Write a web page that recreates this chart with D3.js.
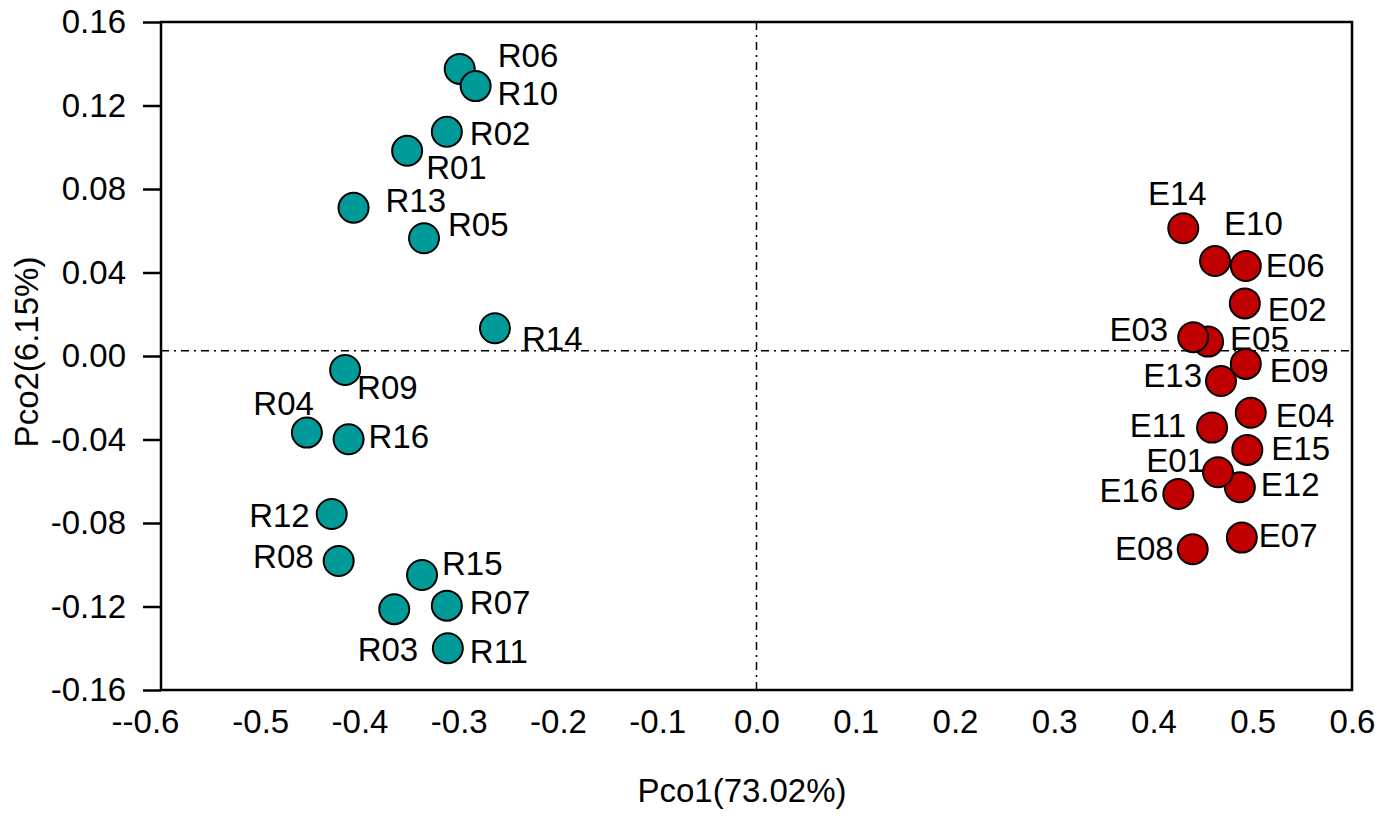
<!DOCTYPE html>
<html>
<head>
<meta charset="utf-8">
<script src="https://cdn.jsdelivr.net/npm/d3@7"></script>
<style>
  body { margin: 0; background: #fff; }
  text { font-family: Arial, "Liberation Sans", sans-serif; fill: #000; }
</style>
</head>
<body>
<div id="chart"></div>
<script>
// R group (teal), listed in drawing order
const rNames = ["R06", "R10", "R02", "R01", "R13", "R05", "R14", "R09", "R04", "R16", "R12", "R08", "R15", "R07", "R03", "R11"];
const rX = [-0.299, -0.283, -0.312, -0.352, -0.406, -0.335, -0.2635, -0.4145, -0.453, -0.411, -0.428, -0.421, -0.337, -0.312, -0.365, -0.311];
const rY = [0.1375, 0.1293, 0.1074, 0.0983, 0.0710, 0.0564, 0.0133, -0.0067, -0.0367, -0.0399, -0.0757, -0.0982, -0.1049, -0.1196, -0.1213, -0.1400];

// E group (red), listed in drawing order
const eNames = ["E14", "E10", "E06", "E02", "E05", "E03", "E13", "E09", "E04", "E11", "E15", "E12", "E01", "E16", "E07", "E08"];
const eX = [0.430, 0.462, 0.493, 0.492, 0.455, 0.440, 0.468, 0.493, 0.498, 0.459, 0.4945, 0.487, 0.465, 0.425, 0.489, 0.4395];
const eY = [0.0612, 0.0455, 0.0431, 0.0252, 0.0069, 0.0090, -0.0120, -0.0038, -0.0272, -0.0343, -0.0450, -0.0629, -0.0557, -0.0661, -0.0870, -0.0926];

const xTicks = [-0.6, -0.5, -0.4, -0.3, -0.2, -0.1, 0.0, 0.1, 0.2, 0.3, 0.4, 0.5, 0.6];
const xTickLabels = ["--0.6", "-0.5", "-0.4", "-0.3", "-0.2", "-0.1", "0.0", "0.1", "0.2", "0.3", "0.4", "0.5", "0.6"];
const yTicks = [0.16, 0.12, 0.08, 0.04, 0.0, -0.04, -0.08, -0.12, -0.16];
const yTickLabels = ["0.16", "0.12", "0.08", "0.04", "0.00", "-0.04", "-0.08", "-0.12", "-0.16"];

const xTitle = "Pco1(73.02%)";
const yTitle = "Pco2(6.15%)";
const hRef = 0.0025; // horizontal reference line
const vRef = 0.0;

// label placement: [anchor, dx, dy]
const labelPlace = {
  R06: ["start", 38, -2], R10: ["start", 22, 19], R02: ["start", 23, 13], R01: ["start", 19, 28],
  R13: ["start", 32, 4], R05: ["start", 24, -2], R14: ["start", 27, 22], R09: ["start", 12, 29],
  R04: ["end", 7, -18], R16: ["start", 20, 9], R12: ["end", -22, 13], R08: ["end", -25, 7],
  R15: ["start", 20, 0], R07: ["start", 23, 8], R03: ["end", 24, 52], R11: ["start", 22, 15],
  E14: ["middle", -6, -23], E10: ["start", 9, -26], E06: ["start", 20, 11], E02: ["start", 23, 18],
  E03: ["end", -25, 4], E05: ["start", 22, 8], E09: ["start", 24, 18], E13: ["end", -19, 6],
  E04: ["start", 25, 14], E11: ["end", -26, 9], E15: ["start", 24, 10], E01: ["end", -13, 0],
  E12: ["start", 21, 9], E16: ["end", -20, 8], E07: ["start", 17, 9], E08: ["end", -19, 11]
};

const W = 1399, H = 816;
const margin = { top: 22, right: 47, bottom: 126, left: 161 };
const width = W - margin.left - margin.right;
const height = H - margin.top - margin.bottom;

const svg = d3.select("#chart").append("svg")
  .attr("width", W)
  .attr("height", H);

const g = svg.append("g")
  .attr("transform", `translate(${margin.left},${margin.top})`);

const x = d3.scaleLinear().domain([-0.6, 0.6]).range([0, width]);
const y = d3.scaleLinear().domain([-0.16, 0.16]).range([height, 0]);

// reference lines
g.append("line")
  .attr("x1", 0).attr("x2", width)
  .attr("y1", y(hRef)).attr("y2", y(hRef))
  .attr("stroke", "#000").attr("stroke-width", 1.5)
  .attr("stroke-dasharray", "8,5,2,5");
g.append("line")
  .attr("x1", x(vRef)).attr("x2", x(vRef))
  .attr("y1", 0).attr("y2", height)
  .attr("stroke", "#000").attr("stroke-width", 1.5)
  .attr("stroke-dasharray", "8,5,2,5");

// frame
g.append("rect")
  .attr("width", width).attr("height", height)
  .attr("fill", "none").attr("stroke", "#000").attr("stroke-width", 2.5);

// y axis
const yAxis = d3.axisLeft(y)
  .tickValues(yTicks)
  .tickSize(18)
  .tickPadding(17)
  .tickFormat((d, i) => yTickLabels[i]);
const ya = g.append("g").call(yAxis);
ya.select(".domain").remove();
ya.selectAll("line").attr("stroke-width", 2.5);
ya.selectAll("text").style("font-size", "33px").attr("font-family", null);

// x axis (labels only)
const xAxis = d3.axisBottom(x)
  .tickValues(xTicks)
  .tickSize(0)
  .tickPadding(20)
  .tickFormat((d, i) => xTickLabels[i]);
const xa = g.append("g").attr("transform", `translate(0,${height})`).call(xAxis);
xa.select(".domain").remove();
xa.selectAll("text").style("font-size", "33px").attr("font-family", null)
  .attr("dx", (d, i) => i === 0 ? -16 : 0);

// axis titles
svg.append("text")
  .attr("x", 742).attr("y", 802)
  .attr("text-anchor", "middle")
  .style("font-size", "33px")
  .text(xTitle);
svg.append("text")
  .attr("transform", "translate(38,352) rotate(-90)")
  .attr("text-anchor", "middle")
  .style("font-size", "33px")
  .text(yTitle);

// points
function drawGroup(names, xs, ys, color) {
  const data = names.map((n, i) => ({ name: n, x: xs[i], y: ys[i] }));
  g.append("g").selectAll("circle")
    .data(data)
    .join("circle")
    .attr("cx", d => x(d.x))
    .attr("cy", d => y(d.y))
    .attr("r", 15)
    .attr("fill", color)
    .attr("stroke", "#000")
    .attr("stroke-width", 2);
  return data;
}

const rData = drawGroup(rNames, rX, rY, "#009b98");
const eData = drawGroup(eNames, eX, eY, "#c00000");

g.append("g").selectAll("text")
  .data(rData.concat(eData))
  .join("text")
  .attr("x", d => x(d.x) + labelPlace[d.name][1])
  .attr("y", d => y(d.y) + labelPlace[d.name][2])
  .attr("text-anchor", d => labelPlace[d.name][0])
  .style("font-size", "33px")
  .text(d => d.name);
</script>
</body>
</html>
